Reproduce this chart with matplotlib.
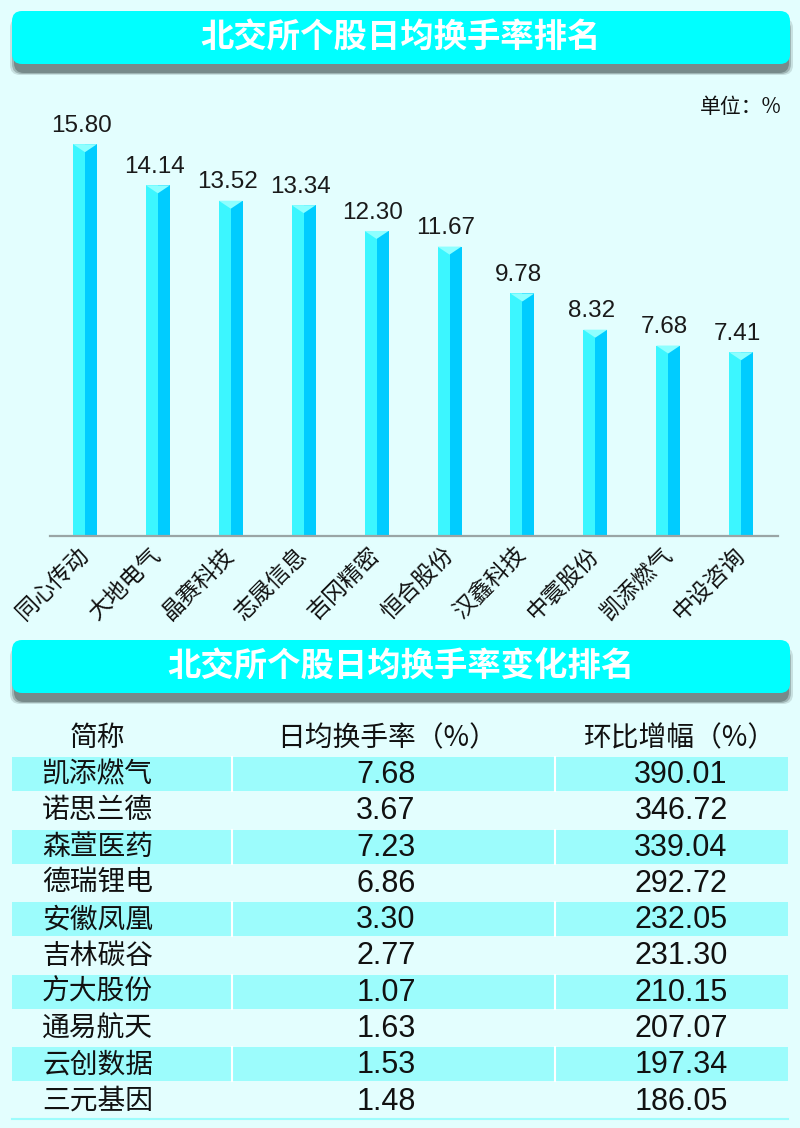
import matplotlib
matplotlib.use("Agg")
import matplotlib.pyplot as plt
from matplotlib.patches import FancyBboxPatch, Rectangle, Polygon

# ---------------- data ----------------
title1 = "北交所个股日均换手率排名"
title2 = "北交所个股日均换手率变化排名"
unit_label = "单位：%"

bar_names = ["同心传动", "大地电气", "晶赛科技", "志晟信息", "吉冈精密",
             "恒合股份", "汉鑫科技", "中寰股份", "凯添燃气", "中设咨询"]
bar_values = [15.80, 14.14, 13.52, 13.34, 12.30, 11.67, 9.78, 8.32, 7.68, 7.41]

table_header = ["简称", "日均换手率（%）", "环比增幅（%）"]
table_names = ["凯添燃气", "诺思兰德", "森萱医药", "德瑞锂电", "安徽凤凰",
               "吉林碳谷", "方大股份", "通易航天", "云创数据", "三元基因"]
table_rate = [7.68, 3.67, 7.23, 6.86, 3.30, 2.77, 1.07, 1.63, 1.53, 1.48]
table_growth = [390.01, 346.72, 339.04, 292.72, 232.05, 231.30, 210.15,
                207.07, 197.34, 186.05]

# ---------------- style ----------------
BG = "#E3FEFE"
CYAN = "#00FFFF"
SHADOW = "#778A8A"
ROWFILL = "#9CFCFC"
BAR_L = "#3CF6FF"
BAR_R = "#00CCFF"
BAR_TOP = "#8EFFFF"
CJK = ["Noto Sans CJK SC", "DejaVu Sans"]
NUM = ["Liberation Sans", "DejaVu Sans"]

W, H = 800, 1128
fig = plt.figure(figsize=(W / 100, H / 100), dpi=100, facecolor=BG)

# overlay axes in pixel coordinates for banners and table
bg = fig.add_axes([0, 0, 1, 1])
bg.set_xlim(0, W)
bg.set_ylim(H, 0)
bg.axis("off")
bg.set_facecolor(BG)


def banner(y0, y1, text):
    for k, a in ((4, 0.25), (2, 0.5), (0, 1.0)):
        sh = FancyBboxPatch((14 - k, y0 + 9 - k / 2), 775 + 2 * k, y1 - y0 + k,
                            boxstyle="round,pad=0,rounding_size=10",
                            fc=SHADOW, ec="none", alpha=a, zorder=1)
        bg.add_patch(sh)
    b = FancyBboxPatch((12, y0), 778, y1 - y0,
                       boxstyle="round,pad=0,rounding_size=10",
                       fc=CYAN, ec="none", zorder=2)
    bg.add_patch(b)
    bg.text(401, (y0 + y1) / 2 + 1, text, ha="center", va="center",
            color="white", fontsize=24, fontweight="bold",
            family=CJK, zorder=3)


banner(11, 64, title1)
banner(640, 693, title2)

bg.text(782, 107, unit_label, ha="right", va="center", fontsize=15,
        family=CJK, color="#111111")

# ---------------- bar chart ----------------
px_per_unit = 24.8
base_y = 536
ax_left, ax_right = 50, 778
ymax = 17.6
ax_top = base_y - ymax * px_per_unit
ax = fig.add_axes([ax_left / W, 1 - base_y / H, (ax_right - ax_left) / W,
                   (base_y - ax_top) / H])
ax.set_facecolor("none")
x0 = -(85 - ax_left) / 72.9
x1 = x0 + (ax_right - ax_left) / 72.9
ax.set_xlim(x0, x1)
ax.set_ylim(0, ymax)
for s in ["top", "right", "left"]:
    ax.spines[s].set_visible(False)
ax.spines["bottom"].set_color("#9AA5A5")
ax.spines["bottom"].set_linewidth(1.6)
ax.set_yticks([])

half = 12 / 72.9
xs = list(range(len(bar_values)))
ax.bar([x - half / 2 for x in xs], bar_values, width=half, color=BAR_L,
       linewidth=0, zorder=2)
ax.bar([x + half / 2 for x in xs], bar_values, width=half, color=BAR_R,
       linewidth=0, zorder=2)
vdepth = 8 / px_per_unit
for x, v in zip(xs, bar_values):
    ax.add_patch(Polygon([(x - half, v), (x + half, v), (x, v - vdepth)],
                         closed=True, fc=BAR_TOP, ec="none", zorder=3))
    ax.text(x - 0.05, v + 0.3, f"{v:.2f}", ha="center", va="bottom",
            fontsize=17.5, family=NUM, color="#1a1a1a")

ax.set_xticks(xs)
ax.set_xticklabels(bar_names, rotation=45, ha="right", va="center",
                   rotation_mode="anchor", fontsize=16.5, family=CJK,
                   color="#111111")
ax.tick_params(axis="x", length=0, pad=11)

# ---------------- table ----------------
hdr_y = 738
row0 = 774
pitch = 36.3
band_h = 34
col_x = [42, 386, 681]
bg.text(97, hdr_y, table_header[0], ha="center", va="center", fontsize=20,
        family=CJK, color="#111111")
bg.text(387, hdr_y, table_header[1], ha="center", va="center", fontsize=20,
        family=CJK, color="#111111")
bg.text(679, hdr_y, table_header[2], ha="center", va="center", fontsize=20,
        family=CJK, color="#111111")

for i, (n, r, g) in enumerate(zip(table_names, table_rate, table_growth)):
    yc = row0 + i * pitch
    if i % 2 == 0:
        bg.add_patch(Rectangle((12, yc - band_h / 2), 776, band_h,
                               fc=ROWFILL, ec="none", zorder=1))
        for sx in (232, 555):
            bg.plot([sx, sx], [yc - band_h / 2, yc + band_h / 2],
                    color="white", lw=1.5, zorder=2)
    bg.text(col_x[0], yc, n, ha="left", va="center", fontsize=20,
            family=CJK, color="#111111", zorder=3)
    bg.text(col_x[1], yc + 1, f"{r:.2f}", ha="center", va="center",
            fontsize=22, family=NUM, color="#111111", zorder=3)
    bg.text(col_x[2], yc + 1, f"{g:.2f}", ha="center", va="center",
            fontsize=22, family=NUM, color="#111111", zorder=3)

bottom = row0 + 9 * pitch + band_h / 2 + 1
bg.plot([12, 788], [bottom, bottom], color=ROWFILL, lw=1.5, zorder=1)

fig.savefig("out.png", dpi=100, facecolor=BG)
